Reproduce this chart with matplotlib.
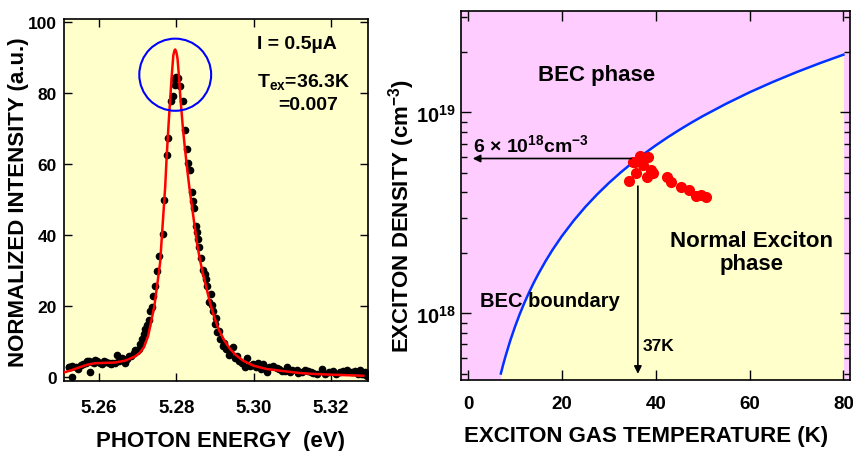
import matplotlib
matplotlib.use('Agg')
import matplotlib.pyplot as plt
from matplotlib.patches import Ellipse
from matplotlib.ticker import LogLocator, NullFormatter, FixedLocator, FixedFormatter

plt.rcParams['font.family'] = ['Liberation Sans', 'DejaVu Sans']
plt.rcParams['font.weight'] = 'bold'
plt.rcParams['mathtext.fontset'] = 'custom'
plt.rcParams['mathtext.rm'] = 'Liberation Sans:bold'
plt.rcParams['mathtext.bf'] = 'Liberation Sans:bold'
plt.rcParams['mathtext.it'] = 'Liberation Sans:bold'

# --- PL spectrum (left) ---
# measured points: photon energy (eV), normalized intensity
E_pts = [5.2521, 5.2522, 5.2526, 5.2529, 5.2531, 5.2539, 5.2545, 5.2552, 5.2558, 5.2565,
         5.2569, 5.2573, 5.2577, 5.2582, 5.2586, 5.2590, 5.2595, 5.2603, 5.2608, 5.2612,
         5.2618, 5.2625, 5.2630, 5.2634, 5.2640, 5.2647, 5.2651, 5.2655, 5.2660, 5.2664,
         5.2668, 5.2673, 5.2677, 5.2683, 5.2690, 5.2694, 5.2698, 5.2703, 5.2707, 5.2711,
         5.2716, 5.2720, 5.2725, 5.2730, 5.2733, 5.2736, 5.2740, 5.2745, 5.2749, 5.2756,
         5.2765, 5.2769, 5.2775, 5.2779, 5.2786, 5.2791, 5.2795, 5.2797, 5.2799, 5.2803,
         5.2810, 5.2817, 5.2822, 5.2827, 5.2829, 5.2835, 5.2840, 5.2844, 5.2845, 5.2851,
         5.2854, 5.2857, 5.2859, 5.2864, 5.2870, 5.2873, 5.2877, 5.2880, 5.2885, 5.2889,
         5.2892, 5.2896, 5.2900, 5.2903, 5.2906, 5.2910, 5.2913, 5.2920, 5.2924, 5.2929,
         5.2935, 5.2940, 5.2947, 5.2952, 5.2958, 5.2963, 5.2969, 5.2978, 5.2982, 5.2990,
         5.2999, 5.3005, 5.3012, 5.3020, 5.3025, 5.3034, 5.3040, 5.3051, 5.3060, 5.3065,
         5.3073, 5.3080, 5.3086, 5.3094, 5.3100, 5.3111, 5.3115, 5.3124, 5.3132, 5.3141,
         5.3148, 5.3154, 5.3165, 5.3176, 5.3185, 5.3195, 5.3206, 5.3213, 5.3223, 5.3232,
         5.3241, 5.3254, 5.3262, 5.3270, 5.3275, 5.3284, 5.3289, 5.3293]
I_pts = [2.7, 2.9, 2.7, 0.1, 3.1, 2.7, 2.2, 3.4, 3.8, 4.1,
         4.6, 4.6, 1.5, 4.2, 3.9, 4.9, 4.5, 4.1, 3.6, 4.4,
         4.3, 3.9, 3.8, 4.1, 4.0, 6.3, 4.6, 5.2, 5.5, 4.7,
         4.1, 5.0, 6.0, 5.9, 6.8, 7.5, 7.4, 8.0, 9.3, 10.7,
         12.1, 13.5, 14.6, 16.0, 18.5, 19.6, 22.9, 25.7, 29.9, 34.2,
         40.3, 49.7, 62.5, 67.2, 77.8, 79.2, 83.9, 82.3, 84.4, 84.1,
         81.9, 77.6, 69.6, 64.2, 60.3, 58.4, 52.2, 49.5, 47.5, 42.6,
         40.8, 38.8, 36.5, 33.4, 30.2, 29.0, 27.6, 25.7, 21.0, 23.5,
         20.3, 18.7, 14.9, 16.5, 12.6, 13.0, 10.7, 8.8, 9.5, 7.9,
         6.2, 7.0, 8.4, 5.5, 6.0, 4.6, 4.1, 2.7, 5.5, 3.0,
         3.7, 2.8, 4.1, 2.4, 3.7, 1.5, 2.9, 3.2, 2.5, 2.2,
         1.8, 1.6, 2.7, 1.3, 2.0, 2.1, 1.2, 1.5, 1.9, 1.8,
         1.4, 1.1, 1.0, 2.3, 0.85, 1.3, 1.8, 0.9, 1.5, 1.7,
         2.1, 1.3, 1.6, 0.9, 2.1, 0.85, 1.5, 0.37]

# fitted line shape
E_fit = [5.2509, 5.2530, 5.2551, 5.2570, 5.2590, 5.2615, 5.2641, 5.2667, 5.2693, 5.2705,
         5.2716, 5.2727, 5.2736, 5.2743, 5.2749, 5.2758, 5.2766, 5.2771, 5.2775, 5.2780,
         5.2784, 5.2788, 5.2792, 5.2795, 5.2797, 5.2800, 5.2803, 5.2806, 5.2810, 5.2817,
         5.2822, 5.2827, 5.2833, 5.2840, 5.2853, 5.2861, 5.2870, 5.2887, 5.2898, 5.2909,
         5.2924, 5.2939, 5.2955, 5.2973, 5.3000, 5.3034, 5.3068, 5.3120, 5.3160, 5.3206,
         5.3284]
I_fit = [1.3, 2.0, 2.8, 3.5, 3.9, 4.0, 4.1, 4.6, 5.8, 6.8,
         8.4, 11.6, 16.3, 20.0, 24.8, 32.3, 45.4, 53.5, 62.3, 71.5,
         78.3, 84.8, 90.5, 91.9, 92.2, 91.4, 89.6, 85.5, 79.2, 69.9,
         64.5, 59.5, 53.9, 48.3, 37.9, 33.0, 28.5, 21.0, 16.9, 13.5,
         10.3, 7.9, 6.1, 4.6, 3.2, 2.25, 1.8, 1.13, 0.85, 0.66,
         0.37]

# --- phase diagram (right) ---
T_bound = [7, 7.5, 8, 9, 10, 11, 12, 13, 14, 15, 16.5, 18, 20, 22.5, 25, 27.5, 30, 32.5,
           35, 37.5, 40, 42.5, 45, 47.5, 50, 55, 60, 65, 70, 75, 80]
n_bound = [5.02e17, 5.57e17, 6.13e17, 7.32e17, 8.57e17, 9.89e17, 1.127e18, 1.27e18,
           1.42e18, 1.574e18, 1.816e18, 2.07e18, 2.424e18, 2.892e18, 3.388e18, 3.908e18,
           4.453e18, 5.021e18, 5.612e18, 6.223e18, 6.856e18, 7.509e18, 8.181e18, 8.872e18,
           9.582e18, 1.105e19, 1.26e19, 1.42e19, 1.587e19, 1.76e19, 1.939e19]

T_exp = [34.3, 35.9, 35.2, 35.5, 36.6, 36.6, 38.4, 37.3, 38.1, 38.9, 39.4,
         42.3, 43.2, 45.3, 47.1, 48.6, 49.7, 50.8]
n_exp = [4.57e18, 4.99e18, 5.66e18, 5.66e18, 5.88e18, 6.1e18, 6.0e18, 5.45e18, 4.76e18,
         5.2e18, 4.99e18, 4.76e18, 4.5e18, 4.28e18, 4.12e18, 3.82e18, 3.90e18, 3.79e18]

T_c = 36.3
n_c = 5.9e18

fig = plt.figure(figsize=(8.54, 4.52), dpi=100)

ax1 = fig.add_axes([0.0749, 0.1549, 0.356, 0.801])
ax1.set_facecolor('#FFFFCC')
ax1.plot(E_pts, I_pts, 'o', color='black', markersize=4.5, zorder=2)
ax1.plot(E_fit, I_fit, '-', color='red', lw=1.8, zorder=3)
ax1.add_patch(Ellipse((5.2797, 85.1), 0.0186, 20.3, fill=False, ec='#0000FF', lw=1.5, zorder=4))
ax1.set_xlim(5.2509, 5.3296)
ax1.set_ylim(-1.1, 100.8)
ax1.set_xticks([5.26, 5.28, 5.30, 5.32])
ax1.set_xticklabels(['5.26', '5.28', '5.30', '5.32'])
ax1.set_yticks([0, 20, 40, 60, 80, 100])
ax1.tick_params(direction='in', length=6, width=1, top=True, right=True)
ax1.tick_params(axis='x', pad=13, labelsize=13.5)
ax1.tick_params(axis='y', pad=5, labelsize=12.5)
ax1.set_xlabel('PHOTON ENERGY  (eV)', fontsize=16, fontweight='bold')
ax1.set_ylabel('NORMALIZED INTENSITY (a.u.)', fontsize=16, fontweight='bold')
ax1.xaxis.set_label_coords(0.515, -0.135)
ax1.yaxis.set_label_coords(-0.115, 0.497)
for s in ax1.spines.values():
    s.set_linewidth(1.2)
ax1.text(0.635, 0.919, 'I = 0.5\u00b5A', transform=ax1.transAxes, fontsize=14, fontweight='bold')
ax1.text(0.635, 0.816, r'T$_{\mathbf{ex}}$=36.3K', transform=ax1.transAxes, fontsize=14, fontweight='bold')
ax1.text(0.704, 0.751, '=0.007', transform=ax1.transAxes, fontsize=14, fontweight='bold')

ax2 = fig.add_axes([0.5398, 0.1571, 0.4555, 0.8164])
ax2.set_facecolor('#FFCCFF')
ax2.set_yscale('log')
ax2.set_xlim(-1.5, 81.4)
ax2.set_ylim(4.66e17, 3.2e19)
ax2.fill_between(T_bound, 4.66e17, n_bound, color='#FFFFCC', lw=0, zorder=1)
ax2.plot(T_bound, n_bound, '-', color='#0033FF', lw=1.8, zorder=3)
ax2.plot(T_exp, n_exp, 'o', color='#FF0000', markersize=7, zorder=4)
arrow = dict(arrowstyle='-|>', mutation_scale=11, lw=1.2, color='black', shrinkA=0, shrinkB=0)
ax2.annotate('', xy=(1.0, n_c), xytext=(34.8, n_c), arrowprops=arrow, zorder=5)
ax2.annotate('', xy=(T_c - 0.1, 5.0e17), xytext=(T_c - 0.1, 4.3e18), arrowprops=arrow, zorder=5)

ax2.set_xticks([0, 20, 40, 60, 80])
ax2.yaxis.set_major_locator(FixedLocator([1e18, 1e19]))
ax2.yaxis.set_major_formatter(FixedFormatter([r'$\mathbf{10^{18}}$', r'$\mathbf{10^{19}}$']))
ax2.yaxis.set_minor_locator(LogLocator(base=10, subs=range(2, 10)))
ax2.yaxis.set_minor_formatter(NullFormatter())
ax2.tick_params(direction='in', which='both', top=True, right=True)
ax2.tick_params(which='major', length=7, width=1)
ax2.tick_params(which='minor', length=4, width=1)
ax2.tick_params(axis='x', pad=11, labelsize=13.5)
ax2.tick_params(axis='y', pad=4, labelsize=14.5)
for s in ax2.spines.values():
    s.set_linewidth(1.2)
ax2.set_xlabel('EXCITON GAS TEMPERATURE (K)', fontsize=16, fontweight='bold')
ax2.set_ylabel(r'EXCITON DENSITY (cm$^{\mathbf{-3}}$)', fontsize=16, fontweight='bold')
ax2.xaxis.set_label_coords(0.475, -0.122)
ax2.yaxis.set_label_coords(-0.113, 0.447)

ax2.text(0.198, 0.813, 'BEC phase', transform=ax2.transAxes, fontsize=16, fontweight='bold', zorder=6)
ax2.text(0.748, 0.30, 'Normal Exciton\nphase', transform=ax2.transAxes, fontsize=16,
         fontweight='bold', ha='center', va='baseline', linespacing=1.15, zorder=6)
ax2.text(0.049, 0.2005, 'BEC boundary', transform=ax2.transAxes, fontsize=14.5, fontweight='bold', zorder=6)
ax2.text(0.468, 0.081, '37K', transform=ax2.transAxes, fontsize=12.5, fontweight='bold', zorder=6)
ax2.text(0.031, 0.621, r'6 $\times$ 10$^{\mathbf{18}}$cm$^{\mathbf{-3}}$', transform=ax2.transAxes,
         fontsize=14, fontweight='bold', zorder=6)

fig.savefig('out.png', dpi=100)
